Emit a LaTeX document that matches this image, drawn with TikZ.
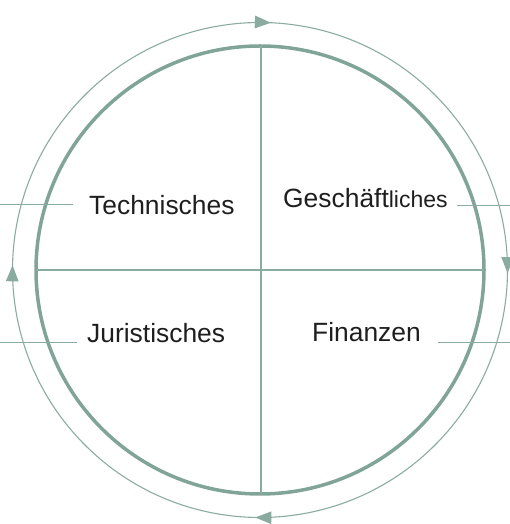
\documentclass[tikz,border=0pt]{standalone}
\usepackage{fontspec}
\setmainfont{Liberation Sans}
\usetikzlibrary{arrows.meta,decorations.markings}
\definecolor{sage}{RGB}{138,172,160}
\definecolor{sagedark}{RGB}{128,164,151}
\definecolor{txt}{RGB}{30,30,30}
\tikzset{ctip/.tip={Triangle[length=16pt,width=12.5pt]}}
\begin{document}
\begin{tikzpicture}[x=1pt,y=1pt,
  lbl/.style={anchor=base west,inner sep=0pt,text=txt,font=\fontsize{26.4}{30}\selectfont},
  leader/.style={draw=sage,line width=0.9pt},
  cross/.style={draw=sage,line width=1.3pt},
  ring/.style={draw=sagedark,line width=3.5pt},
  outer/.style={draw=sage,line width=1.1pt}]
\useasboundingbox (0,0) rectangle (510,524);
\coordinate (c) at (260,254);
% outer ring with clockwise arrows
\draw[outer,postaction={decorate},
  decoration={markings,
    mark=at position 0.128 with {\arrow{ctip}},
    mark=at position 0.382 with {\arrow{ctip}},
    mark=at position 0.627 with {\arrow{ctip}},
    mark=at position 0.878 with {\arrow{ctip}}}]
  (c) ++(225:247.5) arc[start angle=225,end angle=-135,radius=247.5];
% inner ring and cross
\draw[ring] (c) circle[radius=224];
\coordinate (n) at (261,478);
\coordinate (s) at (261,30);
\coordinate (w) at (36,254);
\coordinate (e) at (484,254);
\draw[cross] (n) -- (s);
\draw[cross] (w) -- (e);
% labels
\node[lbl] (tech) at (89,309) {Technisches};
\node[lbl] (gesch) at (283,316) {Geschäft{\fontsize{23}{26}\selectfont liches}};
\node[lbl] (jur) at (87,181) {Juristisches};
\node[lbl] (fin) at (312,182) {Finanzen};
% leaders
\coordinate (tl) at (0,320);
\coordinate (gl) at (510,319);
\coordinate (jl) at (0,182);
\coordinate (fl) at (510,182);
\draw[leader] (tl) -- ([xshift=-16pt]tl -| tech.west);
\draw[leader] ([xshift=9pt]gl -| gesch.east) -- (gl);
\draw[leader] (jl) -- ([xshift=-10pt]jl -| jur.west);
\draw[leader] ([xshift=17pt]fl -| fin.east) -- (fl);
\end{tikzpicture}
\end{document}
